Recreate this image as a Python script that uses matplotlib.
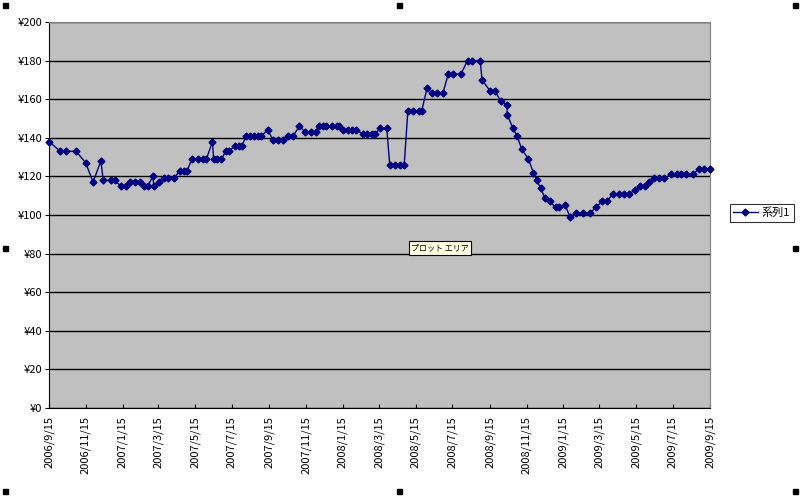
import datetime
import matplotlib
matplotlib.use("Agg")
import matplotlib.pyplot as plt
import numpy as np

plt.rcParams['font.family'] = ['Noto Sans CJK JP', 'DejaVu Sans']

start = datetime.date(2006, 9, 15)

# days after 2006/9/15
day_offsets = [
    0, 19, 29, 45, 61, 73, 86, 90, 102, 109, 119, 128, 135, 143, 151, 158, 164,
    172, 174, 182, 191, 198, 207, 217, 224, 229, 237, 247, 255, 261, 271, 273,
    279, 286, 293, 299, 308, 315, 320, 327, 333, 340, 347, 352, 363, 371, 379,
    388, 396, 405, 415, 425, 434, 442, 447, 455, 459, 470, 477, 481, 487, 495,
    502, 509, 521, 528, 536, 541, 549, 560, 565, 574, 582, 589, 595, 604, 613,
    618, 627, 635, 644, 653, 662, 670, 683, 694, 702, 715, 718, 732, 740, 749,
    759, 760, 769, 776, 784, 795, 803, 809, 815, 822, 830, 840, 846, 856, 864,
    874, 885, 897, 907, 917, 925, 935, 945, 953, 962, 972, 980, 988, 995, 1003,
    1011, 1020, 1032, 1041, 1048, 1057, 1067, 1078, 1086, 1096,
]
prices = [
    138, 133, 133, 133, 127, 117, 128, 118, 118, 118, 115, 115, 117, 117, 117, 115, 115,
    120, 115, 117, 119, 119, 119, 123, 123, 123, 129, 129, 129, 129, 138, 129,
    129, 129, 133, 133, 136, 136, 136, 141, 141, 141, 141, 141, 144, 139, 139,
    139, 141, 141, 146, 143, 143, 143, 146, 146, 146, 146, 146, 146, 144, 144,
    144, 144, 142, 142, 142, 142, 145, 145, 126, 126, 126, 126, 154, 154, 154,
    154, 166, 163, 163, 163, 173, 173, 173, 180, 180, 180, 170, 164, 164, 159,
    157, 152, 145, 141, 134, 129, 122, 118, 114, 109, 107, 104, 104, 105, 99,
    101, 101, 101, 104, 107, 107, 111, 111, 111, 111, 113, 115, 115, 117, 119,
    119, 119, 121, 121, 121, 121, 121, 124, 124, 124,
]
series_name = '系列1'
y_ticks = list(range(0, 201, 20))

dates = [start + datetime.timedelta(days=d) for d in day_offsets]
end = datetime.date(2009, 9, 15)
tick_dates = []
y, m = 2006, 9
while datetime.date(y, m, 15) <= end:
    tick_dates.append(datetime.date(y, m, 15))
    m += 2
    if m > 12:
        m -= 12
        y += 1

fig = plt.figure(figsize=(8, 4.97), dpi=100)
ax = fig.add_axes([49 / 800, 1 - 408 / 497, 661 / 800, 386 / 497])
ax.set_facecolor('#C0C0C0')

ax.plot(dates, prices, color='#000080', lw=1, marker='D', markersize=3.5,
        markerfacecolor='#000080', markeredgecolor='#000080', label=series_name,
        zorder=3, clip_on=False)

ax.set_xlim(start, end)
ax.set_ylim(0, 200)
ax.set_yticks(y_ticks)
ax.set_yticklabels([f'¥{v}' for v in y_ticks], fontsize=8)
ax.set_xticks(tick_dates)
ax.set_xticklabels([f'{d.year}/{d.month}/{d.day}' for d in tick_dates],
                   rotation=90, fontsize=8)
ax.tick_params(axis='x', direction='in', length=3, pad=6)
ax.tick_params(axis='y', direction='out', length=3, pad=2)
ax.yaxis.grid(True, color='black', lw=1)
ax.set_axisbelow(True)

for s in ['top', 'right']:
    ax.spines[s].set_color('#808080')
for s in ['left', 'bottom']:
    ax.spines[s].set_color('black')

leg = ax.legend(loc='center left', bbox_to_anchor=(1.03, 0.505), fontsize=8,
                frameon=True, fancybox=False, borderpad=0.3, handlelength=2.2,
                handletextpad=0.4, borderaxespad=0)
leg.get_frame().set_edgecolor('black')
leg.get_frame().set_linewidth(0.8)

fig.text(411 / 800, 1 - 248 / 497, 'プロット エリア', fontsize=5.8, ha='left', va='center',
         bbox=dict(boxstyle='square,pad=0.3', fc='#FFFFE1', ec='black', lw=0.8))

# selection handles of the chart area
hx = [5, 399, 795]
hy = [5, 248, 491]
for xx in hx:
    for yy in hy:
        if xx == 399 and yy == 248:
            continue
        fig.patches.append(plt.Rectangle(((xx - 2.5) / 800, 1 - (yy + 2.5) / 497),
                                         5 / 800, 5 / 497, transform=fig.transFigure,
                                         color='black'))

fig.savefig('out.png', dpi=100)
